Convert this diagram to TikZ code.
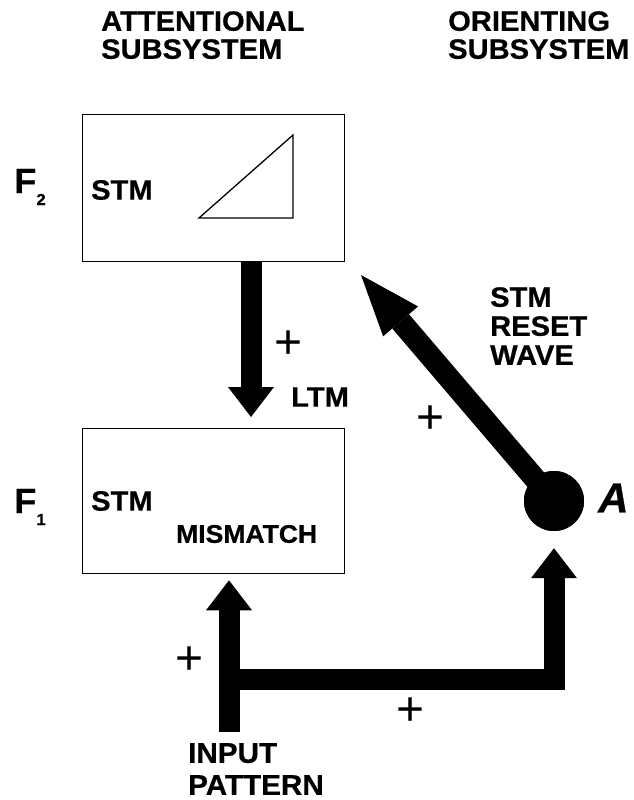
\documentclass[tikz,border=0pt]{standalone}
\usepackage{fontspec}
\setmainfont{Liberation Sans}[BoldFeatures={FakeStretch=1.04,FakeBold=0.6},BoldItalicFeatures={FakeBold=0.6}]
\usetikzlibrary{arrows.meta}
\begin{document}
\begin{tikzpicture}[x=1pt,y=-1pt,
  lbl/.style={inner sep=0pt, font=\bfseries\fontsize{28}{28}\selectfont, align=left},
  box/.style={draw, line width=1.3pt, inner sep=0pt},
  fat/.style={line width=21pt, line join=miter, -{Triangle[length=30pt,width=46pt,line width=0pt]}},
  fatdiag/.style={line width=22pt, -{Triangle[length=61pt,width=46pt,line width=0pt]}},
  plus/.style={inner sep=0pt, font=\fontsize{48}{48}\selectfont},
  flab/.style={inner sep=0pt, anchor=west, font=\bfseries\fontsize{35}{35}\selectfont}
]
\useasboundingbox (0,0) rectangle (634,800);

% titles
\node[lbl, anchor=north west] (att) at (101,11) {ATTENTIONAL\\SUBSYSTEM};
\node[lbl, anchor=north west] (ori) at (448,11) {ORIENTING\\SUBSYSTEM};

% boxes
\node[box, minimum width=262pt, minimum height=147pt, anchor=north west] (F2) at (82,114) {};
\node[box, minimum width=262pt, minimum height=145pt, anchor=north west] (F1) at (82,428) {};

% level labels
\node[flab] (f2lab) at (14,187) {F\raisebox{-12pt}{\fontsize{16}{16}\selectfont 2}};
\node[flab] (f1lab) at (14,507) {F\raisebox{-12pt}{\fontsize{16}{16}\selectfont 1}};

% box texts
\node[lbl, anchor=west] (stm2) at (91,190) {STM};
\node[lbl, anchor=west] (stm1) at (91,501) {STM};
\node[lbl, anchor=west, font=\bfseries\fontsize{25.5}{25.5}\selectfont] (mism) at (176,534) {MISMATCH};

% triangle in F2
\draw[line width=1.3pt, line join=miter] (199,218) -- (293,135) -- (293,218) -- cycle;

% orienting node A
\node[circle, fill=black, minimum size=60pt, inner sep=0pt] (Acirc) at (554,501) {};
\node[inner sep=0pt, anchor=west, font=\bfseries\itshape\fontsize{42}{42}\selectfont] (Alab) at (598,498) {A};

% coordinates
\coordinate (ltmx) at (251,0);
\coordinate (inp) at (229,732);
\coordinate (junc) at (229,679);
\coordinate (rtip) at (361,275);

% LTM arrow
\draw[fat, shorten >=11pt] (F2.south -| ltmx) -- (F1.north -| ltmx);
% input arrow
\draw[fat, shorten >=6pt] (inp) -- (inp |- F1.south);
% branch to A
\draw[fat, shorten >=17pt] (junc) -| (Acirc.south);
% reset wave
\draw[fatdiag] (Acirc.center) -- (rtip);
\node[circle, fill=black, minimum size=60pt, inner sep=0pt] at (Acirc) {};

% labels
\node[plus] (p1) at (289,345) {+};
\node[lbl, anchor=west] (ltm) at (291,397) {LTM};
\node[lbl, anchor=north west, font=\bfseries\fontsize{28}{29}\selectfont] (rst) at (490,287) {STM\\RESET\\WAVE};
\node[plus] (p2) at (431,420) {+};
\node[plus] (p3) at (190,661) {+};
\node[plus] (p4) at (411,712) {+};
\node[lbl, anchor=north west, font=\bfseries\fontsize{28.5}{32}\selectfont] (inlab) at (188,743) {INPUT\\PATTERN};
\end{tikzpicture}
\end{document}
